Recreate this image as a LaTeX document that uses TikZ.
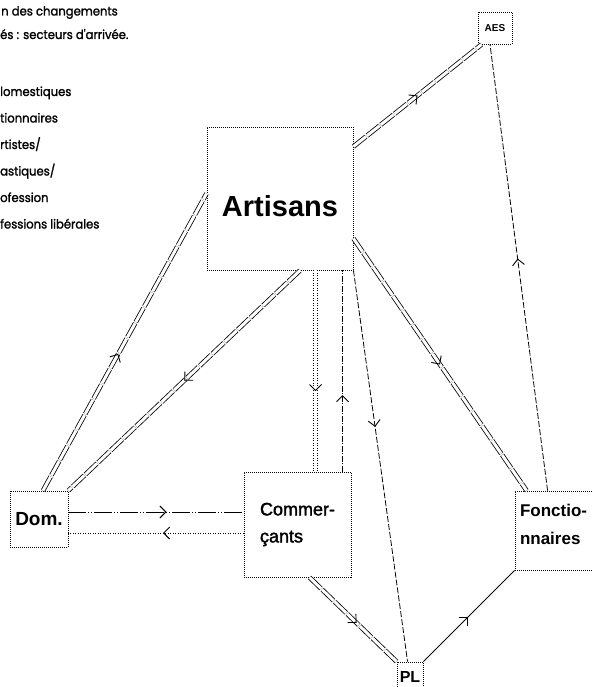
\documentclass[tikz,border=0pt]{standalone}
\usepackage{fontspec}
\setmainfont{Liberation Sans}
\newfontfamily\legendfont[FakeBold=1.5,FakeStretch=0.93]{Poppins}
\newfontfamily\comfont[FakeBold=2]{Liberation Sans}
\usetikzlibrary{arrows.meta,decorations.markings}

\tikzset{
 box/.style={draw,line width=0.9pt,dash pattern=on 1pt off 1pt,inner sep=2pt,align=left},
 rail/.style={preaction={draw,double,line width=0.8pt,double distance=3pt,dash pattern=on 16pt off 1.5pt}},
 dotrail/.style={preaction={draw,double,line width=0.8pt,double distance=3pt,dash pattern=on 1pt off 1.5pt}},
 link/.style={line width=0.8pt},
 flow/.style={postaction={decorate,decoration={markings,
   mark=at position #1 with {\arrow[line width=0.9pt]{Straight Barb[length=6pt,width=12pt]}}}}},
 legend/.style={font=\legendfont\fontsize{12.5}{13}\selectfont,inner sep=0pt,anchor=base west}
}

\begin{document}
\begin{tikzpicture}[x=1pt,y=-1pt]
\useasboundingbox (0,0) rectangle (593,687);

% legend (cut at the left)
\node[legend] (ttl1) at (1,15.5) {n des changements};
\node[legend] (ttl2) at (0,39) {és : secteurs d'arrivée.};
\foreach \txt [count=\i] in {lomestiques,tionnaires,rtistes/,astiques/,ofession,fessions libérales}
 \node[legend] (leg\i) at (0,{96+26.5*(\i-1)}) {\txt};

% sectors
\node[box,minimum width=146pt,minimum height=143pt,text height=35pt,text depth=0pt,
 font=\bfseries\fontsize{29}{30}\selectfont] (art) at (280,198.5) {Artisans};
\node[box,minimum width=34pt,minimum height=32pt,font=\bfseries\fontsize{10}{11}\selectfont]
 (aes) at (495,28) {AES};
\node[box,minimum width=58pt,minimum height=56pt,font=\bfseries\fontsize{19}{20}\selectfont]
 (dom) at (39,519) {Dom.};
\node[box,minimum width=107pt,minimum height=105pt,font=\comfont\fontsize{18}{27}\selectfont]
 (com) at (297.5,524.5) {Commer-\\çants};
\node[box,inner xsep=5pt,inner ysep=2pt,text width=85pt,text height=23pt,text depth=52pt,
 font=\bfseries\fontsize{17}{28}\selectfont] (fon) at (562.5,530.5) {Fonctio-\\nnaires};
\node[box,minimum width=26pt,minimum height=30pt,inner sep=0pt,font=\bfseries\fontsize{16}{17}\selectfont]
 (pl) at (410,677) {PL};

% flows
\path[rail,flow=0.46] ([xshift=4pt]dom.north) -- ([yshift=5pt]art.west);
\path[rail,flow=0.5] ([xshift=20pt]art.south) -- (dom.north east);
\path[rail,flow=0.5] ([yshift=-20pt]art.north east) -- ([xshift=4pt]aes.south west);
\path[rail,flow=0.5] ([yshift=-40pt]art.east) -- ([xshift=12pt]fon.north west);
\draw[link,dash pattern=on 6pt off 2pt,flow=0.52] ([xshift=33pt]fon.north west) -- ([xshift=-5pt]aes.south);
\path[dotrail,flow=0.6] ([xshift=109pt]art.south west) -- ([xshift=72pt]com.north west);
\draw[link,dash pattern=on 6pt off 1.5pt on 1pt off 1.5pt,flow=0.38] ([xshift=99pt]com.north west) -- ([xshift=136pt]art.south west);
\draw[link,dash pattern=on 6pt off 2pt,flow=0.4] (art.south east) -- ([xshift=11pt]pl.north west);
\draw[link,dash pattern=on 18pt off 2pt on 1pt off 2pt on 1pt off 2pt,flow=0.56] ([yshift=7pt]dom.east) -- ([yshift=12.5pt]com.west);
\draw[link,dash pattern=on 1pt off 1.5pt,flow=0.46] ([yshift=-8.5pt]com.west) -- ([yshift=-14pt]dom.east);
\path[rail,flow=0.54] ([xshift=66pt]com.south west) -- (pl.north west);
\draw[link,flow=0.49] (pl.north east) -- (fon.south west);
\end{tikzpicture}
\end{document}
